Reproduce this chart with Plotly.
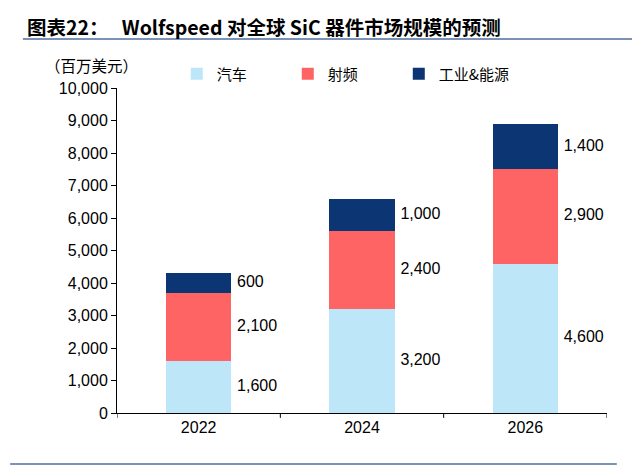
import plotly.graph_objects as go

# data (百万美元)
years = ["2022", "2024", "2026"]
auto = [1600, 3200, 4600]
rf = [2100, 2400, 2900]
power = [600, 1000, 1400]

series_names = ["汽车", "射频", "工业&能源"]
colors = ["#BDE7F8", "#FF6464", "#0B3573"]

x_pos = list(range(len(years)))
fig = go.Figure()

#stacked bars
for name, vals, col in zip(series_names, [auto, rf, power], colors):
    fig.add_trace(go.Bar(x=x_pos, y=vals, name=name, marker_color=col,
                         marker_line_width=0, width=0.4))

#value labels at the middle of every segment, right of the bar
base = [0] * len(years)
for vals in [auto, rf, power]:
    mids = [b + v / 2 for b, v in zip(base, vals)]
    fig.add_trace(go.Scatter(
        x=[i + 0.235 for i in x_pos], y=mids, mode="text",
        text=["{:,}".format(v) for v in vals], textposition="middle right",
        textfont=dict(size=16, color="black", family="Liberation Sans, Arial"),
        showlegend=False, hoverinfo="skip", cliponaxis=False))
    base = [b + v for b, v in zip(base, vals)]

# page body has an 8px margin, so the figure is 8px smaller than the window
fig.update_layout(
    barmode="stack", width=632, height=457,
    margin=dict(l=109, r=33, t=80, b=52, autoexpand=False),
    paper_bgcolor="white", plot_bgcolor="white",
    font=dict(family="Liberation Sans, Arial", size=16, color="black"),
    legend=dict(orientation="h", x=0.122, y=1.043, xanchor="left", yanchor="middle",
                traceorder="normal", entrywidth=66, itemwidth=30,
                font=dict(size=15, family="Noto Sans CJK SC")),
)
fig.update_xaxes(range=[-0.5, 2.5], tickvals=x_pos, ticktext=years,
                 showline=True, linecolor="black", linewidth=1,
                 ticks="", showgrid=False, zeroline=False,
                 tickfont=dict(size=16))
fig.update_yaxes(range=[0, 10000], dtick=1000, tickformat=",",
                 showline=True, linecolor="black", linewidth=1,
                 ticks="outside", ticklen=5, tickcolor="black",
                 showgrid=False, zeroline=False, tickfont=dict(size=16))

#category boundary ticks on the x axis
for xb in [-0.5, 0.5, 1.5, 2.5]:
    fig.add_shape(type="line", xref="x", yref="paper", x0=xb, x1=xb, y0=0, y1=-0.015,
                  line=dict(color="black", width=1))

fig.add_annotation(text="<b>图表22：   Wolfspeed 对全球 SiC 器件市场规模的预测</b>",
                   xref="paper", yref="paper", x=-0.188, y=1.188, xanchor="left", yanchor="middle",
                   showarrow=False, font=dict(size=19.5, family="Noto Sans CJK SC", color="black"))
fig.add_annotation(text="（百万美元）", xref="paper", yref="paper", x=-0.152, y=1.071,
                   xanchor="left", yanchor="middle", showarrow=False,
                   font=dict(size=15.5, family="Noto Sans CJK SC", color="black"))

#rules under the title and at the bottom
fig.add_shape(type="line", xref="paper", yref="paper", x0=-0.192, x1=1.053, y0=1.151, y1=1.151,
              line=dict(color="#4F6E9E", width=1.5))
fig.add_shape(type="line", xref="paper", yref="paper", x0=-0.218, x1=1.02, y0=-0.157, y1=-0.157,
              line=dict(color="#4F6E9E", width=1.5))

fig.write_html("out.html")
